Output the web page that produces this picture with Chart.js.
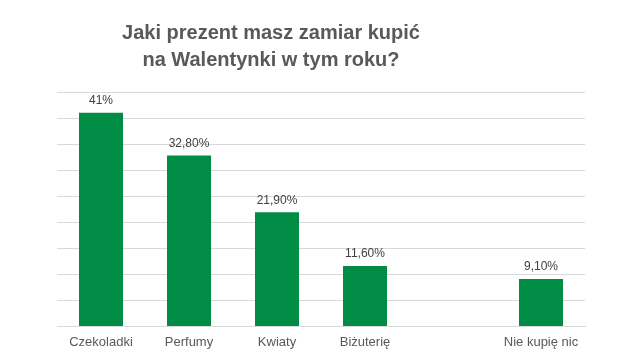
<!DOCTYPE html>
<html>
<head>
<meta charset="utf-8">
<script src="https://cdn.jsdelivr.net/npm/chart.js@4"></script>
<style>
html,body{margin:0;padding:0;background:#fff;}
#wrap{width:631px;height:358px;}
</style>
</head>
<body>
<div id="wrap"><canvas id="c" width="631" height="358"></canvas></div>
<script>
const categories = ['Czekoladki', 'Perfumy', 'Kwiaty', 'Biżuterię', '', 'Nie kupię nic'];
const values = [41, 32.8, 21.9, 11.6, null, 9.1];
const valueLabels = ['41%', '32,80%', '21,90%', '11,60%', '', '9,10%'];
const titleLines = ['Jaki prezent masz zamiar kupić', 'na Walentynki w tym roku?'];

const FONT = '"Liberation Sans", Arial, sans-serif';

const titleDraw = {
  id: 'titleDraw',
  afterDraw(chart) {
    const ctx = chart.ctx;
    ctx.save();
    ctx.font = 'bold 20px ' + FONT;
    ctx.fillStyle = '#595959';
    ctx.textAlign = 'center';
    ctx.textBaseline = 'middle';
    titleLines.forEach((t, i) => ctx.fillText(t, 271, 33 + i * 27));
    ctx.restore();
  }
};

const barLabels = {
  id: 'barLabels',
  afterDatasetsDraw(chart) {
    const ctx = chart.ctx;
    const meta = chart.getDatasetMeta(0);
    ctx.save();
    ctx.font = '12px ' + FONT;
    ctx.fillStyle = '#404040';
    ctx.textAlign = 'center';
    ctx.textBaseline = 'bottom';
    meta.data.forEach((el, i) => {
      if (values[i] == null) return;
      ctx.fillText(valueLabels[i], el.x, el.y - 6);
    });
    ctx.restore();
  }
};

new Chart(document.getElementById('c'), {
  type: 'bar',
  data: {
    labels: categories,
    datasets: [{
      data: values,
      backgroundColor: '#008C44',
      barPercentage: 0.5,
      categoryPercentage: 1.0
    }]
  },
  options: {
    responsive: false,
    animation: false,
    layout: { padding: { left: 57, right: 46, top: 92, bottom: 0 } },
    plugins: {
      legend: { display: false },
      tooltip: { enabled: false },
      title: { display: false }
    },
    scales: {
      x: {
        grid: { display: false, drawTicks: false },
        border: { color: '#d9d9d9' },
        ticks: { color: '#595959', font: { family: FONT, size: 13 }, padding: 8 }
      },
      y: {
        min: 0, max: 45,
        ticks: { display: false, stepSize: 5 },
        grid: { color: '#d9d9d9', drawTicks: false },
        border: { display: false }
      }
    }
  },
  plugins: [barLabels, titleDraw]
});
</script>
</body>
</html>
